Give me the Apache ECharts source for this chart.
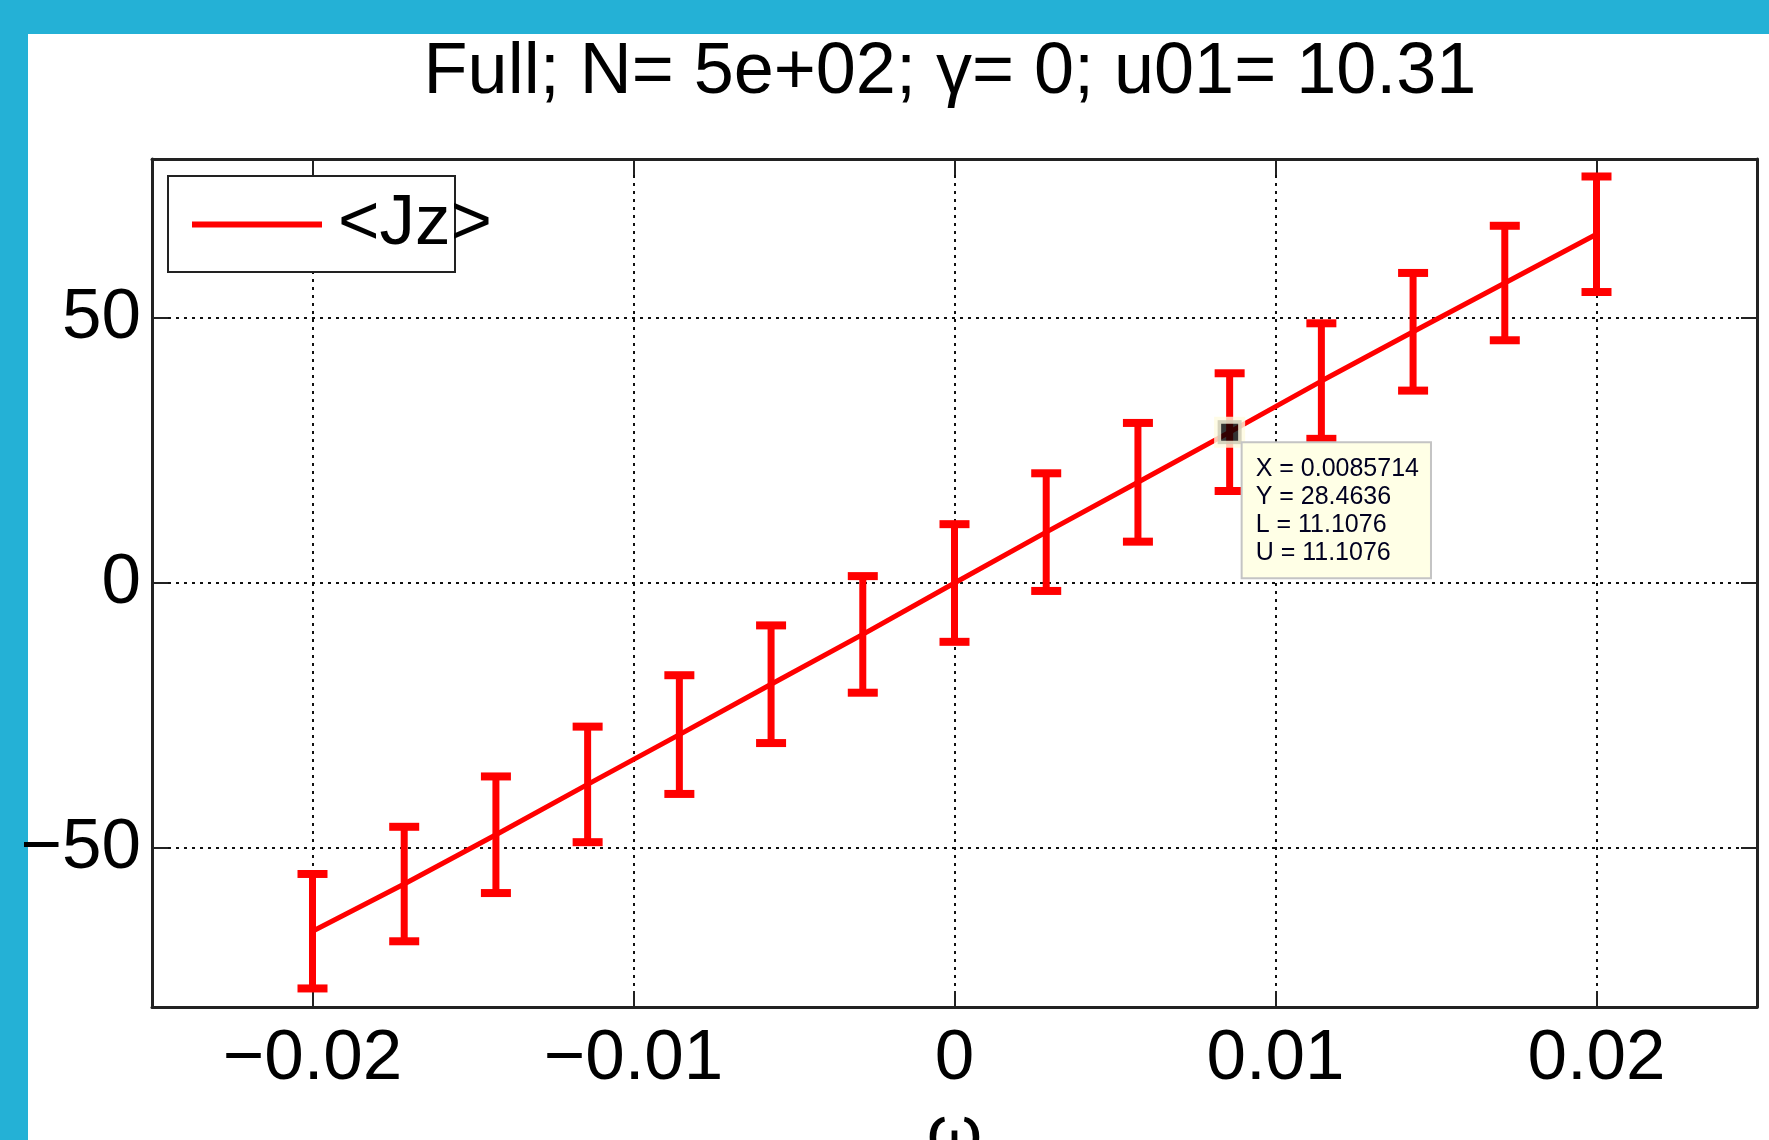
<!DOCTYPE html>
<html lang="en">
<head>
<meta charset="UTF-8">
<title>Full; N= 5e+02</title>
<script src="https://cdn.jsdelivr.net/npm/echarts@6.0.0/dist/echarts.min.js"></script>
<style>
  body { margin: 0; padding: 0; background: #24b1d6; }
  #main { width: 1769px; height: 1140px; }
</style>
</head>
<body>
<div id="main"></div>
<script>
// omega values (linspace -0.02 .. 0.02, 15 points)
var omega = [-0.02, -0.017143, -0.014286, -0.011429, -0.0085714, -0.0057143, -0.0028571, 0,
  0.0028571, 0.0057143, 0.0085714, 0.011429, 0.014286, 0.017143, 0.02];
// <Jz> mean values
var jz = [-65.7, -56.8, -47.5, -38.0, -28.6, -19.1, -9.7, 0.0, 9.6, 19.0, 28.4636, 38.1, 47.4, 56.6, 65.8];
// error bar half lengths (L = U)
var jzErr = [10.8, 10.8, 11.0, 10.9, 11.2, 11.1, 11.0, 11.1, 11.1, 11.2, 11.1076, 10.9, 11.1, 10.8, 10.9];
// axis ticks
var xTicks = [-0.02, -0.01, 0, 0.01, 0.02];
var yTicks = [-50, 0, 50];
// data cursor point
var cursorIdx = 10;

var FONT = "'Liberation Sans', Arial, sans-serif";
var RED = '#ff0000';

var chart = echarts.init(document.getElementById('main'));

var lineData = omega.map(function (x, i) { return [x, jz[i]]; });
var errData = omega.map(function (x, i) { return [x, jz[i] - jzErr[i], jz[i] + jzErr[i]]; });

function minus(v) {
  return String(v).replace('-', '\u2212');
}

var gridLine = { show: true, lineStyle: { color: '#111', width: 2, type: [3, 5] } };

chart.setOption({
  backgroundColor: '#24b1d6',
  animation: false,
  textStyle: { fontFamily: FONT },
  graphic: [
    // white figure panel
    { id: 'panel', type: 'rect', left: 28, top: 34, z: -100,
      shape: { width: 1769 - 28, height: 1140 - 34 },
      style: { fill: '#ffffff' } },
    // legend box (matlab style, text spills over)
    { id: 'legbox', type: 'rect', left: 167, top: 175, z: 3,
      shape: { width: 287, height: 96 },
      style: { fill: '#ffffff', stroke: '#222', lineWidth: 2 } }
  ],
  title: {
    text: 'Full; N= 5e+02; \u03b3= 0; u01= 10.31',
    left: 945,
    textAlign: 'center',
    top: 32,
    textStyle: { fontFamily: FONT, fontSize: 72, fontWeight: 'normal', color: '#000' }
  },
  legend: {
    left: 192,
    top: 189,
    padding: 0,
    icon: 'rect',
    itemWidth: 130,
    itemHeight: 6,
    data: ['<Jz>'],
    textStyle: { fontFamily: FONT, fontSize: 71, color: '#000', padding: [0, 0, 0, 11] }
  },
  grid: { left: 152, right: 12, top: 159, bottom: 133, outerBoundsMode: 'none', containLabel: false },
  xAxis: [{
    type: 'value',
    min: -0.025,
    max: 0.025,
    name: '\u03c9',
    nameLocation: 'middle',
    nameGap: 85,
    nameTextStyle: { fontFamily: FONT, fontSize: 71, color: '#000' },
    axisLine: { onZero: false, lineStyle: { color: '#222', width: 3 } },
    axisTick: { inside: true, length: 16, customValues: xTicks, lineStyle: { color: '#222', width: 2 } },
    axisLabel: { customValues: xTicks, margin: 17, fontFamily: FONT, fontSize: 71, color: '#000',
      formatter: minus },
    splitLine: gridLine
  }, {
    type: 'value',
    position: 'top',
    min: -0.025,
    max: 0.025,
    axisLine: { onZero: false, lineStyle: { color: '#222', width: 3 } },
    axisTick: { inside: true, length: 16, customValues: xTicks, lineStyle: { color: '#222', width: 2 } },
    axisLabel: { show: false },
    splitLine: { show: false }
  }],
  yAxis: [{
    type: 'value',
    min: -80,
    max: 80,
    axisLine: { show: true, onZero: false, lineStyle: { color: '#222', width: 3 } },
    axisTick: { show: true, inside: true, length: 16, customValues: yTicks, lineStyle: { color: '#222', width: 2 } },
    axisLabel: { customValues: yTicks, margin: 11, fontFamily: FONT, fontSize: 71, color: '#000',
      formatter: minus },
    splitLine: gridLine
  }, {
    type: 'value',
    position: 'right',
    min: -80,
    max: 80,
    axisLine: { show: true, onZero: false, lineStyle: { color: '#222', width: 3 } },
    axisTick: { show: true, inside: true, length: 16, customValues: yTicks, lineStyle: { color: '#222', width: 2 } },
    axisLabel: { show: false },
    splitLine: { show: false }
  }],
  series: [{
    name: '<Jz>',
    type: 'line',
    data: lineData,
    symbol: 'none',
    lineStyle: { color: RED, width: 5 },
    itemStyle: { color: RED },
    z: 3
  }, {
    name: 'err',
    type: 'custom',
    data: errData,
    z: 3,
    renderItem: function (params, api) {
      var x = api.value(0);
      var lo = api.coord([x, api.value(1)]);
      var hi = api.coord([x, api.value(2)]);
      var hw = 15;
      var st = { stroke: RED, lineWidth: 8 };
      return {
        type: 'group',
        children: [
          { type: 'line', shape: { x1: hi[0], y1: hi[1], x2: lo[0], y2: lo[1] }, style: { stroke: RED, lineWidth: 7 } },
          { type: 'line', shape: { x1: hi[0] - hw, y1: hi[1], x2: hi[0] + hw, y2: hi[1] }, style: st },
          { type: 'line', shape: { x1: lo[0] - hw, y1: lo[1], x2: lo[0] + hw, y2: lo[1] }, style: st }
        ]
      };
    }
  }, {
    // matlab data cursor marker
    name: 'cursor',
    type: 'scatter',
    z: 6,
    data: [[omega[cursorIdx], jz[cursorIdx]]],
    symbol: 'rect',
    symbolSize: 24,
    itemStyle: { color: '#000', borderColor: '#fffbe0', borderWidth: 7 }
  }]
});

// data cursor box, placed from the cursor point
var p = chart.convertToPixel({ gridIndex: 0 }, [omega[cursorIdx], jz[cursorIdx]]);
var tipText = 'X = ' + omega[cursorIdx] + '\nY = ' + jz[cursorIdx] +
  '\nL = ' + jzErr[cursorIdx] + '\nU = ' + jzErr[cursorIdx];
chart.setOption({
  graphic: [{
    id: 'tip',
    type: 'text',
    x: p[0] + 13,
    y: p[1] + 11,
    z: 100,
    zlevel: 1,
    style: {
      text: tipText,
      fontFamily: FONT,
      fontSize: 25,
      lineHeight: 28,
      fill: '#000020',
      backgroundColor: '#ffffe6',
      borderColor: '#c4c4c4',
      borderWidth: 2,
      padding: [12, 11, 10, 13]
    }
  }]
});
</script>
</body>
</html>
